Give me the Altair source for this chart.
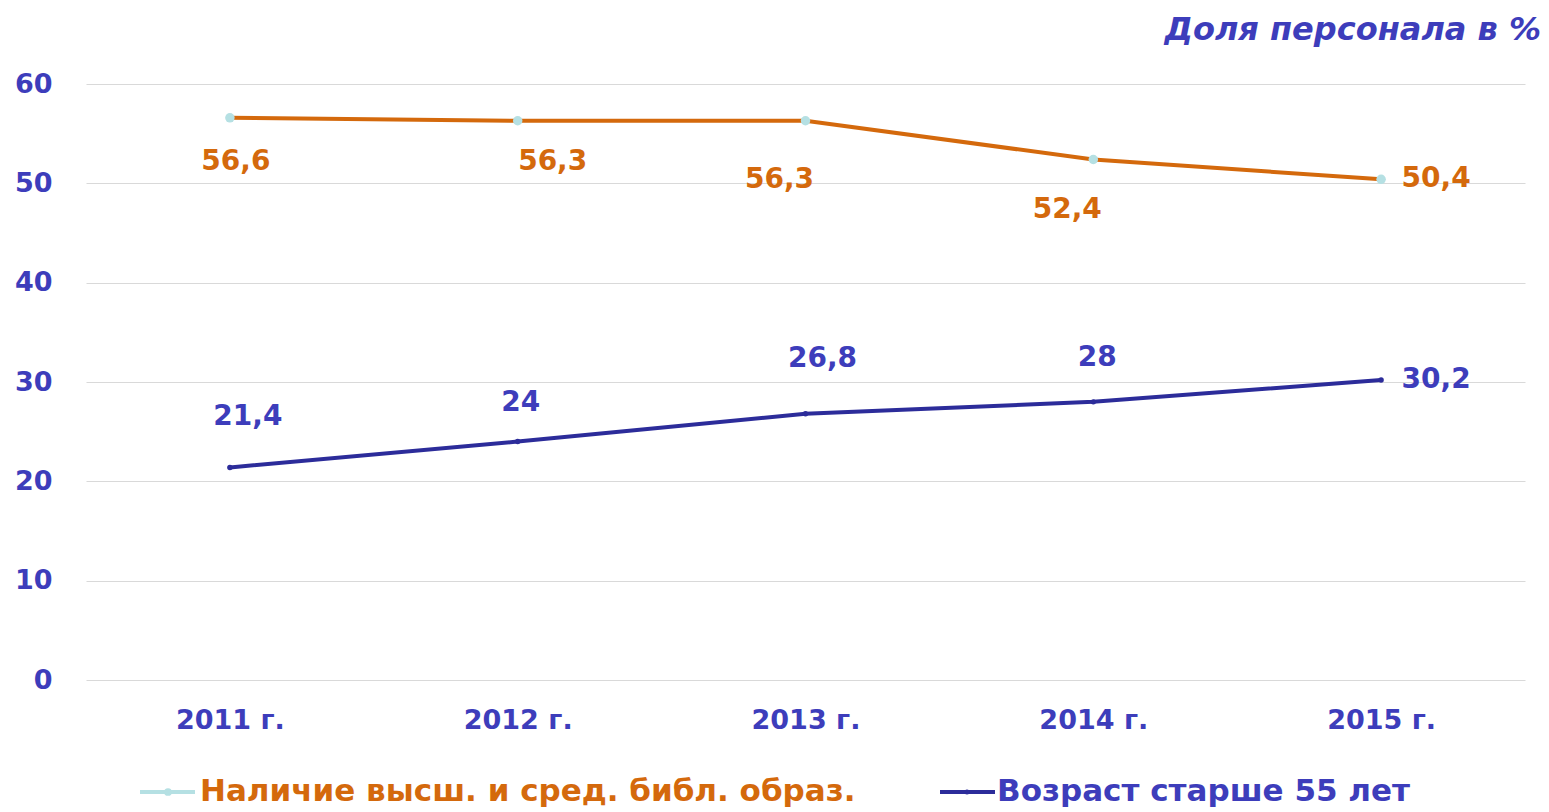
import altair as alt
import pandas as pd

# ---- data ----
years = ["2011 г.", "2012 г.", "2013 г.", "2014 г.", "2015 г."]
edu_values = [56.6, 56.3, 56.3, 52.4, 50.4]
age_values = [21.4, 24.0, 26.8, 28.0, 30.2]
series_names = ["Наличие высш. и сред. библ. образ.", "Возраст старше 55 лет"]
y_title = "Доля персонала в %"

ORANGE = "#D4690C"
BLUE_TXT = "#3D3DBB"
BLUE_LINE = "#2C2C9A"
CYAN = "#B5E0E3"
FONT = "DejaVu Sans"

df = pd.DataFrame({
    "year": years * 2,
    "value": edu_values + age_values,
    "series": [series_names[0]] * len(years) + [series_names[1]] * len(years),
})

W, H = 1439, 596

x_enc = alt.X("year:N", sort=years, scale=alt.Scale(type="point", padding=0.5),
              axis=alt.Axis(title=None, labelFont=FONT, labelFontSize=27, labelFontWeight="bold",
                            labelColor=BLUE_TXT, labelPadding=27, domain=False, ticks=False, grid=False,
                            labelAngle=0))
y_enc = alt.Y("value:Q", scale=alt.Scale(domain=[0, 60], nice=False, zero=True),
              axis=alt.Axis(title=None, values=[0, 10, 20, 30, 40, 50, 60], labelFont=FONT,
                            labelFontSize=27, labelFontWeight="bold", labelColor=BLUE_TXT,
                            labelPadding=34, domain=False, ticks=False, grid=True,
                            gridColor="#D9D9D9", gridWidth=1))

base = alt.Chart(df).transform_calculate(
    label="replace(format(datum.value, '.1~f'), '.', ',')"
)

edu = base.transform_filter(alt.datum.series == series_names[0])
age = base.transform_filter(alt.datum.series == series_names[1])

edu_line = edu.mark_line(color=ORANGE, strokeWidth=4).encode(x=x_enc, y=y_enc)
edu_pts = edu.mark_circle(color=CYAN, opacity=1, size=90).encode(x=x_enc, y=y_enc)
age_line = age.mark_line(color=BLUE_LINE, strokeWidth=4).encode(x=x_enc, y=y_enc)
age_pts = age.mark_circle(color=BLUE_LINE, opacity=1, size=30).encode(x=x_enc, y=y_enc)

layers = [edu_line, age_line, edu_pts, age_pts]

edu_offsets = [(6, 44), (35, 41), (-26, 59), (-26, 51), (55, 0)]
age_offsets = [(18, -50), (3, -39), (17, -55), (4, -44), (55, 0)]
for i, yr in enumerate(years):
    dx, dy = edu_offsets[i]
    layers.append(
        edu.transform_filter(alt.datum.year == yr)
        .mark_text(font=FONT, fontSize=28, fontWeight="bold", color=ORANGE, dx=dx, dy=dy,
                   baseline="middle", align="center")
        .encode(x=x_enc, y=y_enc, text="label:N")
    )
    dx, dy = age_offsets[i]
    layers.append(
        age.transform_filter(alt.datum.year == yr)
        .mark_text(font=FONT, fontSize=28, fontWeight="bold", color=BLUE_TXT, dx=dx, dy=dy,
                   baseline="middle", align="center")
        .encode(x=x_enc, y=y_enc, text="label:N")
    )

# title (top right)
one = pd.DataFrame({"t": [y_title]})
layers.append(
    alt.Chart(one).mark_text(font=FONT, fontSize=32, fontWeight="bold", fontStyle="italic",
                             color=BLUE_TXT, align="right", baseline="middle")
    .encode(x=alt.value(1455), y=alt.value(-54), text="t:N")
)

# custom legend
leg_y = 708
LEG_FONT = "DejaVu Sans"
leg1 = pd.DataFrame({"t": [series_names[0]]})
leg2 = pd.DataFrame({"t": [series_names[1]]})
layers += [
    alt.Chart(leg1).mark_rule(color=CYAN, strokeWidth=4).encode(
        x=alt.value(54), x2=alt.value(109), y=alt.value(leg_y)),
    alt.Chart(leg1).mark_circle(color=CYAN, opacity=1, size=60).encode(
        x=alt.value(82), y=alt.value(leg_y)),
    alt.Chart(leg1).mark_text(font=LEG_FONT, fontSize=31, fontWeight="bold",
                              color=ORANGE, align="left", baseline="middle").encode(
        x=alt.value(114), y=alt.value(leg_y), text="t:N"),
    alt.Chart(leg2).mark_rule(color=BLUE_LINE, strokeWidth=4).encode(
        x=alt.value(854), x2=alt.value(909), y=alt.value(leg_y)),
    alt.Chart(leg2).mark_circle(color=BLUE_LINE, opacity=1, size=25).encode(
        x=alt.value(881), y=alt.value(leg_y)),
    alt.Chart(leg2).mark_text(font=LEG_FONT, fontSize=31, fontWeight="bold",
                              color=BLUE_TXT, align="left", baseline="middle").encode(
        x=alt.value(911), y=alt.value(leg_y), text="t:N"),
]

chart = alt.layer(*layers).properties(
    width=W, height=H,
    autosize=alt.AutoSizeParams(type="none"),
    padding={"left": 78, "top": 76, "right": 16, "bottom": 128},
).configure(
    background="white",
    view=alt.ViewConfig(stroke="transparent", strokeWidth=0),
)

chart.save("out.html", embed_options={"renderer": "svg", "actions": False})
